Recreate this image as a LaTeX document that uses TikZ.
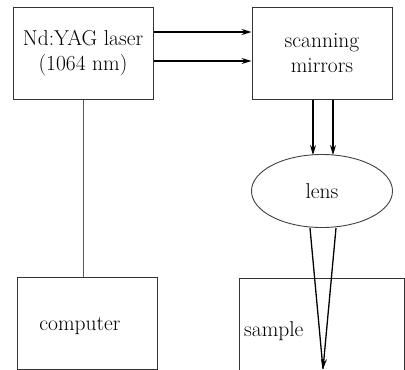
\documentclass[tikz,border=0pt]{standalone}
\usepackage{fontspec}
\usetikzlibrary{arrows.meta,shapes.geometric}
\begin{document}
\begin{tikzpicture}[x=1pt,y=-1pt,
  box/.style={draw=black!80,line width=1pt,minimum width=140pt,minimum height=92pt,inner sep=0pt},
  txt/.style={font=\fontsize{21.5}{25}\selectfont,align=center,inner sep=0pt},
  beam/.style={line width=1.3pt,-{Stealth[length=10pt,width=6pt]}},
  wire/.style={draw=black!65,line width=1pt}]
\useasboundingbox (0,0) rectangle (405,370);
\begin{scope}
\clip (0,0) rectangle (405,370);
% top row: laser source and scanner
\node[box,txt] (laser) at (83,53) {Nd:YAG laser\\(1064 nm)};
\node[box,txt] (scan) at (322,53) {scanning\\mirrors};
% focusing lens
\node[draw=black!75,line width=0.9pt,ellipse,minimum width=141pt,minimum height=73pt,inner sep=0pt,txt] (lens) at (322,191) {lens};
% bottom row: computer and sample
\node[box] (computer) at (87,323) {};
\node[txt] (comptext) at (80,326) {computer};
\node[box,minimum width=165pt,minimum height=98pt] (sample) at (321.5,327) {};
\node[txt,anchor=west] (samptext) at (244,331) {sample};
% beam paths
\draw[beam] (laser.east |- 0,32) -- (scan.west |- 0,32);
\draw[beam] (laser.east |- 0,61) -- (scan.west |- 0,61);
\draw[beam] (scan.south -| 313,0) -- (313,155);
\draw[beam] (scan.south -| 333,0) -- (333,155);
\coordinate (focus) at (323,369);
\draw[line width=1.3pt] (310,228) -- (focus);
\draw[beam] (336,228) -- (focus);
% control link
\draw[wire] (laser.south -| 83,0) -- (computer.north -| 83,0);
\end{scope}
\end{tikzpicture}
\end{document}
